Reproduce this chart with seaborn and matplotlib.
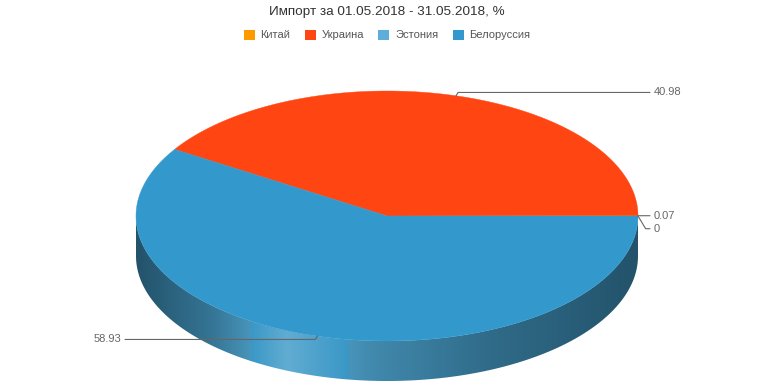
import numpy as np
import matplotlib.pyplot as plt
import matplotlib.colors as mcolors
from matplotlib.patches import Polygon, Patch
import seaborn as sns

# ── Style ──────────────────────────────────────────────────────────────────
sns.set_style('white')
plt.rcParams['font.family'] = ['Liberation Sans', 'DejaVu Sans']

# ── Data ───────────────────────────────────────────────────────────────────
TITLE = 'Импорт за 01.05.2018 - 31.05.2018, %'
countries = ['Китай', 'Украина', 'Эстония', 'Белоруссия']
shares = [0.07, 40.98, 0.0, 58.93]
colors = ['#FF9900', '#FF4511', '#5EAEDB', '#3399CC']
draw_order = ['Китай', 'Украина', 'Белоруссия', 'Эстония']   # counter-clockwise from 3 o'clock

# ── Geometry of the fake 3D pie (pixels) ───────────────────────────────────
W, H = 774, 387
CX, CY, RX, RY, DEPTH = 387, 216, 251, 125, 40

fig = plt.figure(figsize=(W / 100, H / 100), dpi=100)
ax = fig.add_axes([0, 0, 1, 1])


def ell(t, dy=0.0):
    r = np.radians(t)
    return CX + RX * np.cos(r), CY - RY * np.sin(r) + dy


def shade(base, k):
    rgb = np.array(mcolors.to_rgb(base))
    if k <= 1:
        rgb = rgb * k
        s = 0.15 + 0.1 * (k - 0.55) / 0.45
    else:
        rgb = rgb + (1 - rgb) * (k - 1)
        s = 0.08
    return np.clip(rgb * (1 - s) + rgb.mean() * s, 0, 1)


share_of = dict(zip(countries, shares))
color_of = dict(zip(countries, colors))
total = sum(shares)

slices = []
start = 0.0
for name in draw_order:
    span = share_of[name] / total * 360
    slices.append((name, start, start + span))
    start += span

# side gradient along x: dark edges, light band front-left
grad_pos = [0.0, 0.15, 0.3, 0.47, 0.7, 1.0]
grad_k = [0.55, 0.78, 1.2, 0.92, 0.72, 0.55]
xs = np.linspace(0, 1, 300)
ks = np.interp(xs, grad_pos, grad_k)

# ── Side walls ─────────────────────────────────────────────────────────────
for name, a0, a1 in slices:
    s0, s1 = max(a0, 180), min(a1, 360)
    if s1 - s0 < 1:
        continue
    t = np.linspace(s0, s1, 200)
    tx, ty = ell(t)
    bx, by = ell(t[::-1], DEPTH)
    poly = Polygon(np.column_stack([np.r_[tx, bx], np.r_[ty, by]]),
                   closed=True, facecolor='none', edgecolor='none')
    ax.add_patch(poly)
    img = np.array([[shade(color_of[name], k) for k in ks]])
    im = ax.imshow(img, extent=(CX - RX, CX + RX, CY + RY + DEPTH, CY - RY),
                   aspect='auto', interpolation='bilinear', zorder=1)
    im.set_clip_path(poly)

# ── Top face ───────────────────────────────────────────────────────────────
for name, a0, a1 in slices:
    if a1 <= a0:
        continue
    big = (a1 - a0) > 1
    t = np.linspace(a0, a1, 300)
    px, py = ell(t)
    pts = np.column_stack([np.r_[CX, px], np.r_[CY, py]])
    ax.add_patch(Polygon(pts, closed=True, facecolor=color_of[name],
                         edgecolor=color_of[name], linewidth=0.3 if big else 0,
                         zorder=2 if big else 1.9))

# ── Labels with leader lines ───────────────────────────────────────────────
labels = []
for name, a0, a1 in slices:
    mid = (a0 + a1) / 2
    axp, ayp = ell(mid)
    side = 1 if np.cos(np.radians(mid)) >= -1e-9 else -1
    ly = ayp - 3.5 * np.sin(np.radians(mid))
    labels.append([name, axp, ayp, side, ly])

for side in (1, -1):
    grp = sorted([l for l in labels if l[3] == side], key=lambda l: l[4])
    for i in range(1, len(grp)):
        if grp[i][4] - grp[i - 1][4] < 13:
            grp[i][4] = grp[i - 1][4] + 13

for name, axp, ayp, side, ly in labels:
    xend = 650 if side == 1 else 125
    dx = min(abs(ly - ayp) * 0.6, 10) * side
    ax.plot([axp, axp + dx, xend], [ayp, ly, ly], color='#666666', lw=0.8, zorder=3)
    txt = f'{share_of[name]:g}'
    ax.text(xend + 4 * side, ly, txt, ha='left' if side == 1 else 'right',
            va='center', fontsize=8, color='#666666', zorder=4)

# ── Title and legend ───────────────────────────────────────────────────────
fig.text(0.5, 1 - 12 / H, TITLE, ha='center', va='center', fontsize=9.7, color='#333333')
handles = [Patch(facecolor=c, edgecolor='none', label=n) for n, c in zip(countries, colors)]
fig.legend(handles=handles, loc='center', bbox_to_anchor=(0.5, 1 - 35 / H), ncol=4,
           frameon=False, fontsize=8, handlelength=1.0, handleheight=1.0,
           handletextpad=0.5, columnspacing=1.3, labelcolor='#555555')

ax.set_xlim(0, W)
ax.set_ylim(H, 0)
ax.axis('off')

plt.savefig('out.png', dpi=100)
plt.close()
